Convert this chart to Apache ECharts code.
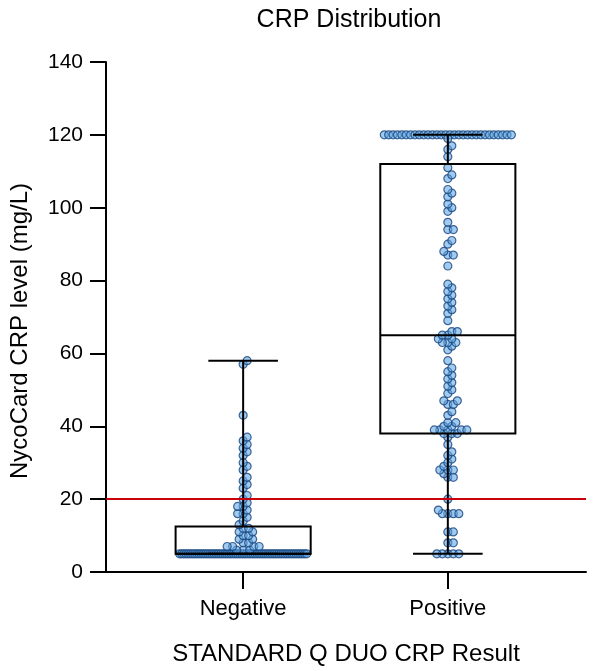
<!DOCTYPE html>
<html><head><meta charset="utf-8">
<script src="https://cdn.jsdelivr.net/npm/echarts@6/dist/echarts.min.js"></script>
<style>html,body{margin:0;padding:0;background:#fff}#c{width:604px;height:671px}</style>
</head><body><div id="c"></div>
<script>
const categories = ['Negative', 'Positive'];
const threshold = 20;
// box statistics: [min, Q1, median, Q3, max]
const negativeBox = [5, 5, 5, 12.5, 58];
const positiveBox = [5, 38, 65, 112, 120];
const negativeValues = [
  5,5,5,5,5,5,5,5,5,5, 5,5,5,5,5,5,5,5,5,5, 5,5,5,5,5,5,5,5,5,5,
  5,5,5,5,5,5,5,5,5,5, 5,5,5,5,5,5,5,5,5,5, 5,5,5,5,5,5,5,5,5,5,
  6,6,6, 7,7,7,7, 8,8, 9,9, 10,10, 11,11, 12,12, 13, 14, 15, 16,16, 17, 18,18,
  19, 20, 21, 23, 24, 25, 26, 28, 29, 30, 32, 33, 34, 35, 36, 37, 43, 57, 58
];
const positiveValues = [
  120,120,120,120,120,120,120,120,120,120, 120,120,120,120,120,120,120,120,120,120,
  120,120,120,120,120,120,120,120,120,120,
  119, 117, 116, 114, 111, 109, 108, 105, 104, 103, 101, 100, 99, 96, 94, 94, 91, 90, 88, 87, 87, 84,
  79, 78, 77, 76, 75, 74, 73, 72, 71, 69, 66, 66, 65, 65, 64, 64, 63, 63, 63, 62, 61,
  58, 56, 55, 54, 53, 52, 51, 50, 49, 47, 47, 46, 46, 44, 43, 41, 41, 40, 40,
  39, 39, 39, 39, 39, 38, 38, 38, 37, 35, 33, 32, 31, 30, 29, 28, 28, 28, 27, 26, 26,
  20, 17, 16, 16, 16, 16, 11, 11, 8, 8, 5, 5, 5, 5, 5
];

const FONT = 'Liberation Sans, Arial, sans-serif';
const BOX_W = 0.66;   // box width in x-axis units
const CAP_W = 0.34;   // whisker cap width in x-axis units

const chart = echarts.init(document.getElementById('c'));

const baseOption = {
  animation: false,
  backgroundColor: '#fff',
  title: {
    text: 'CRP Distribution', left: 344, top: 3, textAlign: 'center',
    textStyle: { fontFamily: FONT, fontSize: 25, fontWeight: 'normal', color: '#000' }
  },
  grid: { left: 102, right: 18, top: 62, bottom: 93, containLabel: false },
  xAxis: {
    type: 'value', min: -0.67, max: 1.675,
    name: 'STANDARD Q DUO CRP Result', nameLocation: 'middle', nameGap: 70,
    nameTextStyle: { fontFamily: FONT, fontSize: 24, color: '#000' },
    axisLine: { show: true, onZero: false, lineStyle: { color: '#000', width: 2 } },
    axisTick: { show: true, customValues: [0, 1], length: 17, lineStyle: { color: '#000', width: 2 } },
    axisLabel: { customValues: [0, 1], margin: 26, fontFamily: FONT, fontSize: 22, color: '#000',
      formatter: v => categories[Math.round(v)] },
    splitLine: { show: false }
  },
  yAxis: {
    type: 'value', min: 0, max: 140, interval: 20,
    name: 'NycoCard CRP level (mg/L)', nameLocation: 'middle', nameGap: 74,
    nameTextStyle: { fontFamily: FONT, fontSize: 24, color: '#000', padding: [0, 28, 0, 0] },
    axisLine: { show: true, onZero: false, lineStyle: { color: '#000', width: 2 } },
    axisTick: { show: true, length: 16, lineStyle: { color: '#000', width: 2 } },
    axisLabel: { margin: 23, fontFamily: FONT, fontSize: 21, color: '#000' },
    splitLine: { show: false }
  },
  series: []
};
chart.setOption(baseOption);

// pixel scale from the library's axes
const p0 = chart.convertToPixel({ gridIndex: 0 }, [0, 0]);
const p1 = chart.convertToPixel({ gridIndex: 0 }, [1, 1]);
const pxX = p1[0] - p0[0];
const pxY = Math.abs(p1[1] - p0[1]);

function swarm(values, center) {
  const D = 5.2;
  const half = (BOX_W * pxX - 8) / 2;
  const counts = {};
  values.forEach(v => { counts[v] = (counts[v] || 0) + 1; });
  const placed = [];
  const out = [];
  Object.keys(counts).forEach(k => {
    const n = counts[k], v = +k;
    if (n * D > 2 * half) {
      for (let i = 0; i < n; i++) {
        const x = -half + 2 * half * i / (n - 1);
        placed.push({ x: x, y: v * pxY });
        out.push([center + x / pxX, v]);
      }
    }
  });
  const rest = values.filter(v => counts[v] * D <= 2 * half).sort((a, b) => a - b);
  rest.forEach(v => {
    const y = v * pxY;
    let best = 0, bestScore = -1;
    for (let j = 0; ; j++) {
      const x = j === 0 ? 0 : (j % 2 ? 1 : -1) * Math.ceil(j / 2) * 0.5;
      if (Math.abs(x) > half) break;
      let md = Infinity;
      for (const p of placed) {
        const d = Math.hypot(p.x - x, p.y - y);
        if (d < md) md = d;
      }
      if (md >= D) { best = x; bestScore = md; break; }
      if (md > bestScore + 0.01) { bestScore = md; best = x; }
    }
    placed.push({ x: best, y: y });
    out.push([center + best / pxX, v]);
  });
  return out;
}

const dots = swarm(negativeValues, 0).concat(swarm(positiveValues, 1));
const boxData = [[0].concat(negativeBox), [1].concat(positiveBox)];

chart.setOption({
  series: [
    {
      type: 'scatter', z: 2, data: dots, symbol: 'circle', symbolSize: 8,
      itemStyle: { color: 'rgba(95,165,225,0.72)', borderColor: '#17457f', borderWidth: 1.2 }
    },
    {
      type: 'line', z: 3, data: [], silent: true,
      markLine: {
        silent: true, symbol: 'none', label: { show: false },
        lineStyle: { color: '#c8000a', width: 2, type: 'solid' },
        data: [{ yAxis: threshold }]
      }
    },
    {
      type: 'custom', z: 4, silent: true, data: boxData,
      encode: { x: 0, y: [1, 2, 3, 4, 5] },
      renderItem: function (params, api) {
        const xi = api.value(0);
        const mn = api.value(1), q1 = api.value(2), md = api.value(3), q3 = api.value(4), mx = api.value(5);
        const bw = api.size([BOX_W, 0])[0];
        const cw = api.size([CAP_W, 0])[0];
        const pMin = api.coord([xi, mn]), pQ1 = api.coord([xi, q1]), pMd = api.coord([xi, md]);
        const pQ3 = api.coord([xi, q3]), pMax = api.coord([xi, mx]);
        const cx = pMd[0];
        const st = { stroke: '#000', lineWidth: 2, fill: null };
        const line = (x1, y1, x2, y2) => ({ type: 'line', shape: { x1, y1, x2, y2 }, style: st });
        return {
          type: 'group',
          children: [
            { type: 'rect', shape: { x: cx - bw / 2, y: pQ3[1], width: bw, height: pQ1[1] - pQ3[1] }, style: st },
            line(cx - bw / 2, pMd[1], cx + bw / 2, pMd[1]),
            line(cx, pQ3[1], cx, pMax[1]),
            line(cx, pQ1[1], cx, pMin[1]),
            line(cx - cw / 2, pMax[1], cx + cw / 2, pMax[1]),
            line(cx - cw / 2, pMin[1], cx + cw / 2, pMin[1])
          ]
        };
      }
    }
  ]
});
</script>
</body></html>
